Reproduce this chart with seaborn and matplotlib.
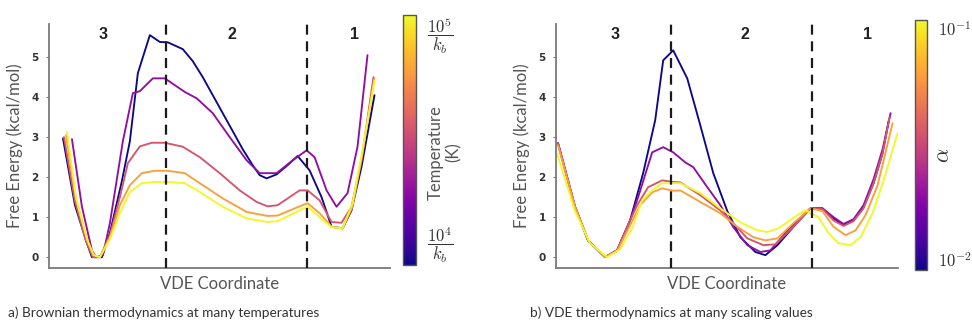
import numpy as np
import pandas as pd
import matplotlib
matplotlib.use("Agg")
import matplotlib.pyplot as plt
import seaborn as sns
from matplotlib.colors import LogNorm
from matplotlib.cm import ScalarMappable
from matplotlib.ticker import NullLocator
from matplotlib import font_manager

# ---------------- data: panel a (Brownian, temperatures) ----------------
temps = [1e4, 2e4, 3.5e4, 6e4, 1e5]

a_x_t1 = [1.4, 2.6, 3.8, 4.3, 5.3, 6.1, 7.3, 8.1, 8.9, 10.1, 11.1, 11.9, 13.4, 14.4, 15.4, 16.4,
          17.4, 18.4, 19.4, 20.4, 21.1, 21.8, 22.8, 23.9, 24.9, 26.1, 27.3, 28.3, 29.4, 30.3, 31.3, 32.6]
a_y_t1 = [2.97, 1.3, 0.35, 0.0, 0.0, 0.6, 1.9, 2.9, 4.6, 5.55, 5.38, 5.37, 5.2, 4.9, 4.5, 4.05,
          3.6, 3.15, 2.7, 2.3, 2.05, 1.97, 2.07, 2.3, 2.53, 2.17, 1.5, 0.76, 0.72, 1.17, 2.26, 4.05]

a_x_t2 = [2.3, 3.3, 4.3, 4.7, 5.4, 6.1, 7.4, 8.4, 9.1, 10.4, 11.6, 12.6, 13.6, 14.8, 16.4, 18.1,
          19.8, 21.1, 22.8, 24.4, 25.8, 26.6, 27.8, 28.8, 29.9, 30.9, 31.9]
a_y_t2 = [2.95, 1.26, 0.17, 0.0, 0.05, 0.85, 2.9, 4.1, 4.15, 4.47, 4.47, 4.3, 4.13, 3.97, 3.6, 3.0,
          2.42, 2.1, 2.1, 2.42, 2.67, 2.5, 1.67, 1.26, 1.6, 2.76, 5.05]

a_x_t3 = [1.5, 2.6, 3.7, 4.4, 5.1, 6.1, 7.1, 7.9, 9.1, 10.3, 11.6, 13.4, 15.1, 17.1, 19.1, 20.8,
          21.9, 22.9, 25.1, 25.9, 27.1, 28.3, 29.3, 30.3, 31.3, 32.5]
a_y_t3 = [3.0, 1.4, 0.4, 0.0, 0.0, 0.55, 1.5, 2.35, 2.77, 2.86, 2.86, 2.76, 2.5, 2.1, 1.67, 1.38,
          1.27, 1.3, 1.67, 1.67, 1.42, 0.88, 0.86, 1.26, 2.42, 4.5]

a_x_t4 = [1.7, 2.7, 3.8, 4.4, 5.1, 6.1, 7.1, 8.1, 9.3, 10.6, 11.9, 13.6, 15.1, 17.4, 19.8, 21.9,
          22.9, 24.9, 25.9, 27.1, 28.3, 29.4, 30.4, 31.4, 32.6]
a_y_t4 = [3.05, 1.45, 0.45, 0.05, 0.0, 0.5, 1.3, 1.8, 2.1, 2.16, 2.16, 2.1, 1.85, 1.47, 1.13, 1.03,
          1.04, 1.25, 1.35, 1.1, 0.76, 0.72, 1.26, 2.6, 4.47]

a_x_t5 = [1.8, 2.7, 3.8, 4.5, 5.1, 6.1, 7.1, 8.1, 9.3, 10.6, 11.9, 13.6, 15.1, 17.4, 19.8, 21.9,
          22.9, 25.1, 25.9, 27.1, 28.3, 29.4, 30.4, 31.4, 32.6]
a_y_t5 = [3.13, 1.5, 0.45, 0.05, 0.0, 0.45, 1.1, 1.63, 1.85, 1.88, 1.88, 1.85, 1.63, 1.26, 0.97, 0.88,
          0.9, 1.17, 1.26, 1.0, 0.75, 0.72, 1.35, 2.67, 4.42]

# ---------------- data: panel b (VDE, scaling values) ----------------
alphas = [1e-2, 2e-2, 3.5e-2, 6e-2, 1e-1]

b_x_s1 = [0.2, 1.9, 3.2, 4.9, 6.1, 7.4, 8.7, 9.9, 10.7, 11.7, 13.1, 14.4, 15.7, 17.1, 18.4, 19.9,
          20.9, 22.1, 23.7, 25.4, 26.6, 27.7, 28.7, 29.7, 30.7, 31.7, 32.6, 33.2]
b_y_s1 = [2.85, 1.26, 0.42, 0.0, 0.17, 0.92, 2.1, 3.42, 4.92, 5.17, 4.47, 3.3, 2.1, 1.15, 0.5, 0.13,
          0.05, 0.3, 0.76, 1.22, 1.22, 0.97, 0.8, 0.92, 1.25, 1.85, 2.6, 3.4]

b_x_s2 = [0.2, 1.9, 3.2, 4.9, 6.1, 7.4, 8.2, 9.6, 10.7, 11.7, 12.9, 13.7, 15.1, 16.4, 17.7, 19.1,
          20.4, 21.4, 23.4, 25.4, 26.6, 27.7, 28.7, 29.7, 30.7, 31.7, 32.6, 33.4]
b_y_s2 = [2.85, 1.26, 0.42, 0.0, 0.17, 0.92, 1.5, 2.62, 2.75, 2.62, 2.37, 2.25, 1.75, 1.3, 0.75, 0.3,
          0.13, 0.17, 0.75, 1.22, 1.22, 1.0, 0.83, 0.95, 1.3, 1.95, 2.7, 3.6]

b_x_s3 = [0.2, 1.9, 3.2, 4.9, 6.1, 7.4, 8.1, 9.2, 10.6, 11.7, 12.4, 14.4, 16.4, 17.7, 19.1, 20.7,
          21.9, 23.7, 25.4, 26.6, 27.7, 28.7, 29.7, 30.7, 31.7, 32.6, 33.3]
b_y_s3 = [2.85, 1.26, 0.42, 0.0, 0.17, 0.92, 1.3, 1.75, 1.92, 1.88, 1.87, 1.55, 1.17, 0.85, 0.47, 0.3,
          0.32, 0.76, 1.22, 1.2, 0.92, 0.78, 0.9, 1.22, 1.85, 2.6, 3.5]

b_x_s4 = [0.2, 1.9, 3.2, 4.9, 6.1, 7.4, 8.4, 9.6, 10.6, 11.7, 12.4, 14.4, 16.4, 18.1, 19.7, 20.9,
          22.1, 23.7, 25.4, 26.6, 27.7, 28.9, 29.9, 30.9, 32.1, 33.6]
b_y_s4 = [2.8, 1.26, 0.42, 0.0, 0.15, 0.8, 1.3, 1.62, 1.72, 1.66, 1.67, 1.38, 1.1, 0.76, 0.5, 0.42,
          0.47, 0.85, 1.22, 1.15, 0.76, 0.55, 0.67, 1.05, 1.8, 3.35]

b_x_s5 = [0.1, 1.9, 3.4, 5.1, 6.4, 7.6, 8.6, 9.6, 10.6, 11.7, 12.4, 14.4, 16.4, 18.4, 20.1, 21.1,
          22.2, 24.1, 24.9, 26.2, 27.2, 28.2, 29.4, 30.4, 31.6, 32.7, 34.1]
b_y_s5 = [2.6, 1.15, 0.35, 0.0, 0.2, 0.72, 1.42, 1.67, 1.85, 1.85, 1.85, 1.6, 1.22, 0.87, 0.67, 0.63,
          0.72, 1.05, 1.17, 1.0, 0.6, 0.35, 0.3, 0.5, 1.1, 1.92, 3.1]

# region boundaries (VDE coordinate) and region labels
a_bounds = [11.7, 25.8]
b_bounds = [11.5, 25.6]
region_names = ["3", "2", "1"]
a_region_x = [5.4, 18.3, 30.6]
b_region_x = [5.9, 18.9, 31.1]

yticks = [0, 1, 2, 3, 4, 5]
a_cbar_labels = [r"$\dfrac{10^4}{k_b}$", r"$\dfrac{10^5}{k_b}$"]
b_cbar_labels = [r"$10^{-2}$", r"$10^{-1}$"]
caption_a = "a) Brownian thermodynamics at many temperatures"
caption_b = "b) VDE thermodynamics at many scaling values"


def long_frame(xs, ys, levels, name):
    rows = []
    for x, y, lev in zip(xs, ys, levels):
        rows.append(pd.DataFrame({"coord": x, "energy": y, name: lev}))
    return pd.concat(rows, ignore_index=True)


df_a = long_frame([a_x_t1, a_x_t2, a_x_t3, a_x_t4, a_x_t5],
                  [a_y_t1, a_y_t2, a_y_t3, a_y_t4, a_y_t5], temps, "temperature")
df_b = long_frame([b_x_s1, b_x_s2, b_x_s3, b_x_s4, b_x_s5],
                  [b_y_s1, b_y_s2, b_y_s3, b_y_s4, b_y_s5], alphas, "alpha")

# ---------------- style ----------------
sns.set_style("ticks")
plt.rcParams["font.family"] = ["Lato", "DejaVu Sans"]
plt.rcParams["mathtext.fontset"] = "cm"

installed = {f.name for f in font_manager.fontManager.ttflist}
narrow = "Liberation Sans Narrow" if "Liberation Sans Narrow" in installed else None

fig = plt.figure(figsize=(9.72, 3.28), dpi=100)
ax_a = fig.add_axes([0.0504, 0.183, 0.3508, 0.744])
ax_b = fig.add_axes([0.572, 0.183, 0.352, 0.744])
cax_a = fig.add_axes([0.4146, 0.192, 0.0134, 0.762])
cax_b = fig.add_axes([0.9414, 0.177, 0.0123, 0.762])

norm_a = LogNorm(vmin=temps[0], vmax=temps[-1])
norm_b = LogNorm(vmin=alphas[0], vmax=alphas[-1])

sns.lineplot(data=df_a, x="coord", y="energy", hue="temperature", hue_norm=norm_a,
             palette="plasma", estimator=None, sort=False, legend=False, lw=1.35, ax=ax_a)
sns.lineplot(data=df_b, x="coord", y="energy", hue="alpha", hue_norm=norm_b,
             palette="plasma", estimator=None, sort=False, legend=False, lw=1.35, ax=ax_b)

spine_col = "#7a7a7a"
for ax, bounds, rx in [(ax_a, a_bounds, a_region_x), (ax_b, b_bounds, b_region_x)]:
    ax.set_xlim(0, 34.15)
    ax.set_ylim(-0.27, 5.83)
    ax.set_xticks([])
    ax.set_yticks(yticks)
    ax.set_yticklabels([str(t) for t in yticks], family="DejaVu Sans", fontsize=7.5,
                       color="#333333", fontweight="bold")
    ax.tick_params(axis="y", length=2.5, width=0.8, color=spine_col, pad=5)
    sns.despine(ax=ax)
    for s in ["left", "bottom"]:
        ax.spines[s].set_color(spine_col)
        ax.spines[s].set_linewidth(1.3)
    for b in bounds:
        ax.axvline(b, color="#1a1a1a", ls=(0, (4.5, 3.0)), lw=1.6, zorder=5)
    for name, x in zip(region_names, rx):
        ax.text(x, 0.955, name, transform=ax.get_xaxis_transform(), ha="center",
                va="center", fontsize=11.5, fontweight="bold", color="#222222",
                family=["Liberation Sans", "DejaVu Sans"])
    ax.set_ylabel("Free Energy (kcal/mol)", fontsize=12, color="#555555", labelpad=6)
    ax.set_xlabel("VDE Coordinate", fontsize=12, color="#555555", labelpad=6)

# ---------------- colorbars ----------------
for cax, norm, labels in [(cax_a, norm_a, a_cbar_labels), (cax_b, norm_b, b_cbar_labels)]:
    sm = ScalarMappable(norm=norm, cmap="plasma")
    cb = fig.colorbar(sm, cax=cax)
    cb.set_ticks([norm.vmin, norm.vmax])
    cb.set_ticklabels(labels)
    cax.yaxis.set_minor_locator(NullLocator())
    cax.tick_params(length=0, pad=8, labelsize=12, colors="#333333")
    cb.outline.set_edgecolor("#555555")
    cb.outline.set_linewidth(1.0)
    tl = cax.get_yticklabels()
    tl[0].set_va("bottom")
    tl[1].set_va("top")

fig.text(0.4575, 0.535, "Temperature\n(K)", rotation=90, ha="center", va="center",
         fontsize=12, color="#555555", linespacing=1.1)
fig.text(0.970, 0.527, r"$\alpha$", rotation=90, ha="center", va="center",
         fontsize=16, color="#333333")

# ---------------- captions ----------------
if narrow:
    cap_kw = dict(family=[narrow, "DejaVu Sans"], fontsize=11.5)
else:
    cap_kw = dict(family=["Lato", "DejaVu Sans"], fontsize=9.8)
fig.text(0.008, 0.048, caption_a, ha="left", va="center", color="#333333", **cap_kw)
fig.text(0.545, 0.048, caption_b, ha="left", va="center", color="#333333", **cap_kw)

fig.savefig("out.png", dpi=100)
